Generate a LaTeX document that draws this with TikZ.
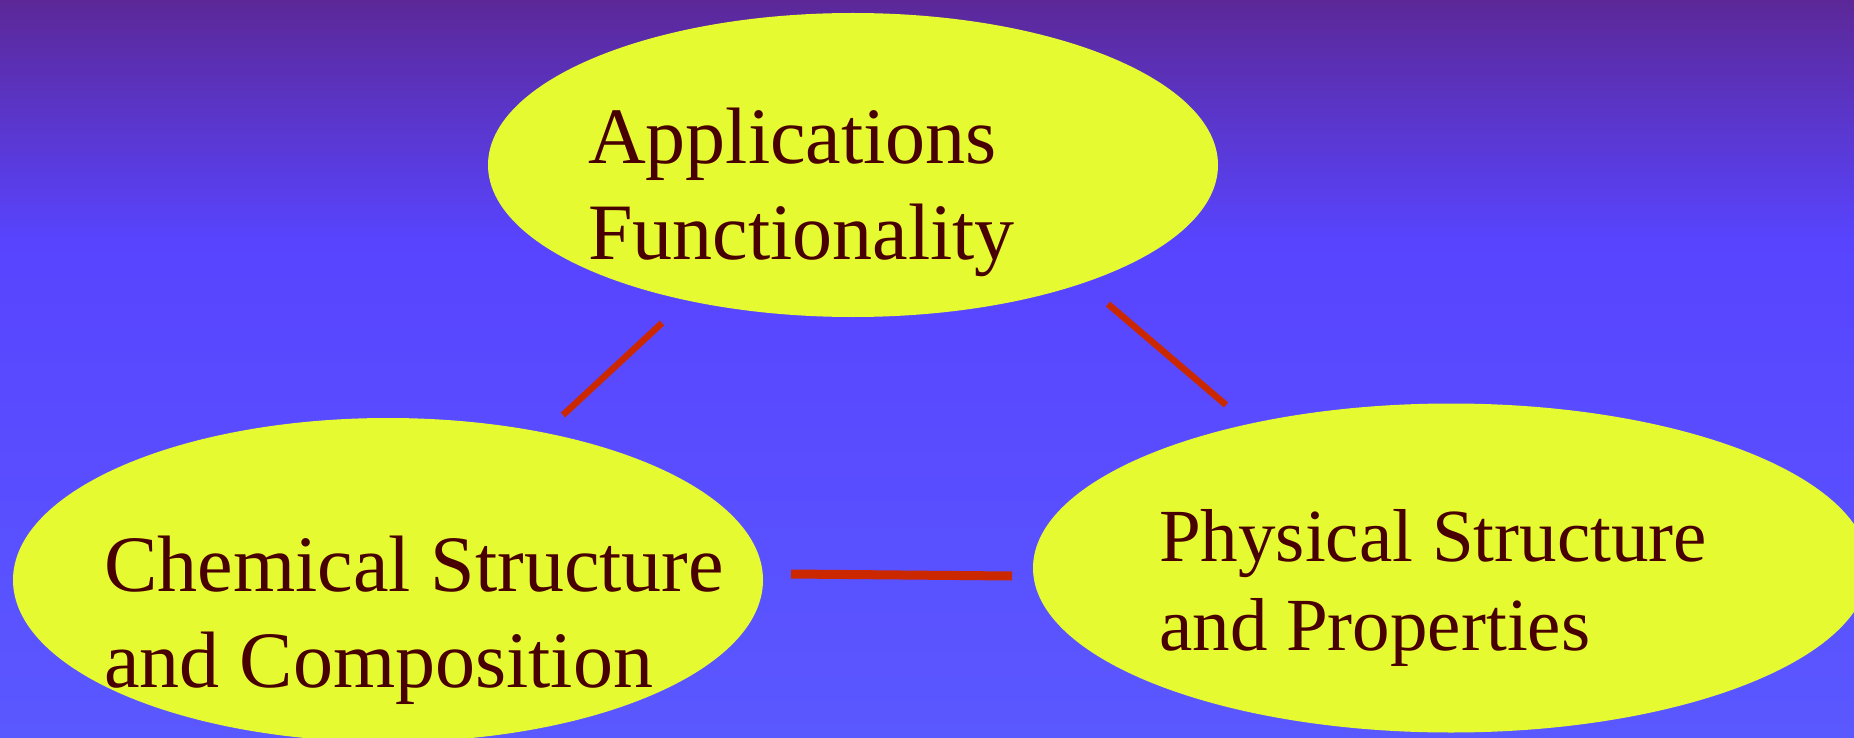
\documentclass[tikz,border=0pt]{standalone}
\usepackage{fontspec}
\setmainfont{Liberation Serif}
\usetikzlibrary{shapes.geometric}
\definecolor{bgtop}{RGB}{92,40,152}
\definecolor{bgmid}{RGB}{88,68,255}
\definecolor{bgbot}{RGB}{90,88,255}
\definecolor{blob}{RGB}{230,250,50}
\definecolor{ink}{RGB}{72,0,0}
\definecolor{wire}{RGB}{204,40,0}
\tikzset{
	topic/.style={ellipse,fill=blob,inner sep=0pt},
	topictext/.style={anchor=base west,inner sep=0pt,align=left,text=ink,
		font=\fontsize{80}{96}\selectfont},
	link/.style={wire,line width=6.5pt}
}

\begin{document}
\begin{tikzpicture}[x=1pt,y=-1pt]
	%background
	\clip (0,0) rectangle (1854,738);
	\shade[top color=bgtop,bottom color=bgmid] (0,0) rectangle (1854,241);
	\shade[top color=bgmid,bottom color=bgbot] (0,240) rectangle (1854,738);
	%bubbles
	\node[topic,minimum width=730pt,minimum height=304pt] (app) at (853,165) {};
	\node[topic,minimum width=750pt,minimum height=324pt] (chem) at (388,580) {};
	\node[topic,minimum width=836pt,minimum height=329pt] (phys) at (1451,568) {};
	%labels (anchored on the last line)
	\node[topictext] (applbl) at (588,259) {Applications\\Functionality};
	\node[topictext] (chemlbl) at (104,687) {Chemical Structure\\and Composition};
	\node[topictext,font=\fontsize{75}{89}\selectfont] (physlbl) at (1159,650)
		{Physical Structure\\and Properties};
	%link ends
	\coordinate (appchem1) at (662,323);
	\coordinate (appchem2) at (563,415);
	\coordinate (appphys1) at (1108,304);
	\coordinate (appphys2) at (1226,405);
	\coordinate (chemphys1) at (791,574);
	\coordinate (chemphys2) at (1012,576);
	%links
	\draw[link] (appchem1) -- (appchem2);
	\draw[link] (appphys1) -- (appphys2);
	\draw[link,line width=9pt] (chemphys1) -- (chemphys2);
\end{tikzpicture}
\end{document}
